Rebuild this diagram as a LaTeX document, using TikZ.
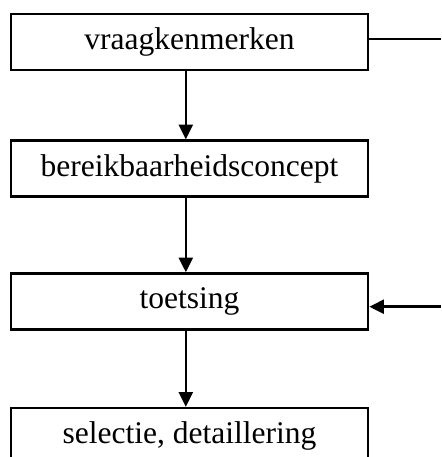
\documentclass[tikz,border=0pt]{standalone}
\usepackage{fontspec}
\setmainfont{Liberation Serif}
\usetikzlibrary{calc,arrows.meta}

\tikzset{
    stapbox/.style={draw, line width=1pt, minimum width=4.855cm,
        minimum height=0.76cm, inner sep=0pt, font=\fontsize{12.2}{14}\selectfont},
    pijl/.style={line width=1pt, -{Triangle[length=0.2cm,width=0.19cm]}}
}

\begin{document}
\begin{tikzpicture}
    \useasboundingbox (0,0) rectangle (6,-6.215);
    \node[stapbox] (kenmerken) at (2.577,-0.571) {vraagkenmerken};
    \node[stapbox] (concept) at (2.577,-2.292) {bereikbaarheidsconcept};
    \node[stapbox] (toetsing) at (2.577,-4.100) {toetsing};
    \node[stapbox] (selectie) at (2.577,-5.930) {selectie, detaillering};
    \coordinate (uit) at (6,-0.530);
    \coordinate (in) at (6,-4.171);
    \draw[pijl] ($(kenmerken.south)+(-0.05,0)$) -- ($(concept.north)+(-0.05,0)$);
    \draw[pijl] ($(concept.south)+(-0.05,0)$) -- ($(toetsing.north)+(-0.05,0)$);
    \draw[pijl] ($(toetsing.south)+(-0.05,0)$) -- ($(selectie.north)+(-0.05,0)$);
    \draw[line width=1pt] (uit -| kenmerken.east) -- (uit);
    \draw[pijl] (in) -- (in -| toetsing.east);
\end{tikzpicture}
\end{document}
